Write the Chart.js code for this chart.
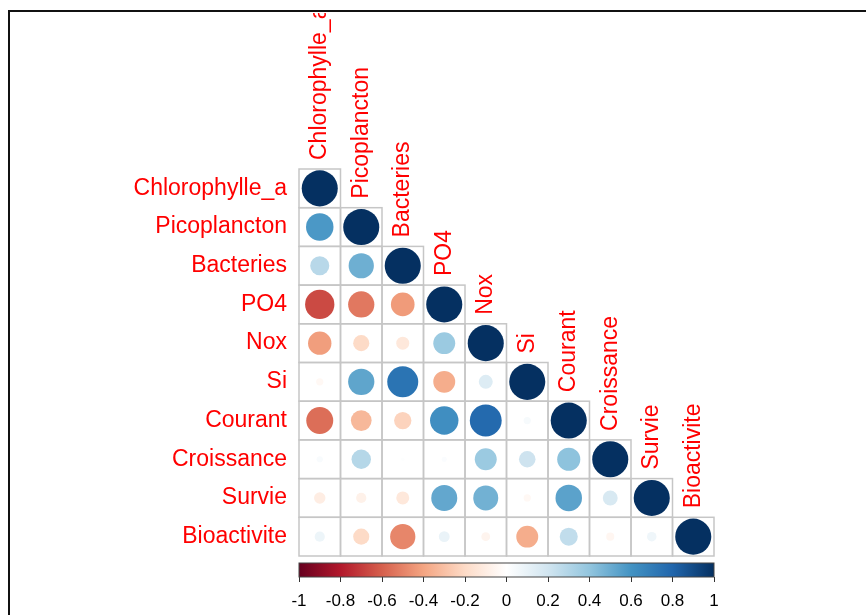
<!DOCTYPE html>
<html>
<head>
<meta charset="utf-8">
<script src="https://cdn.jsdelivr.net/npm/chart.js@4.4.1/dist/chart.umd.min.js"></script>
<style>
  html, body { margin: 0; padding: 0; background: #fff; }
  canvas { display: block; }
</style>
</head>
<body>
<canvas id="chart" width="866" height="615"></canvas>
<script>
'use strict';

const variables = ['Chlorophylle_a', 'Picoplancton', 'Bacteries', 'PO4', 'Nox', 'Si',
  'Courant', 'Croissance', 'Survie', 'Bioactivite'];

// lower triangle of the correlation matrix, one row per variable
const corChlorophylle = [1];
const corPicoplancton = [0.58, 1];
const corBacteries = [0.28, 0.49, 1];
const corPO4 = [-0.66, -0.53, -0.43, 1];
const corNox = [-0.42, -0.2, -0.13, 0.37, 1];
const corSi = [-0.04, 0.53, 0.74, -0.37, 0.15, 1];
const corCourant = [-0.56, -0.33, -0.23, 0.62, 0.78, 0.04, 1];
const corCroissance = [0.03, 0.29, 0.01, 0.02, 0.37, 0.21, 0.41, 1];
const corSurvie = [-0.1, -0.08, -0.13, 0.52, 0.48, -0.04, 0.54, 0.17, 1];
const corBioactivite = [0.08, -0.2, -0.49, 0.09, -0.06, -0.37, 0.25, -0.05, 0.07, 1];

const colorbarTicks = [-1, -0.8, -0.6, -0.4, -0.2, 0, 0.2, 0.4, 0.6, 0.8, 1];

const corrRows = [corChlorophylle, corPicoplancton, corBacteries, corPO4, corNox,
  corSi, corCourant, corCroissance, corSurvie, corBioactivite];

const FONT = '"Liberation Sans", Arial, sans-serif';
const rdbu = ['#67001F', '#B2182B', '#D6604D', '#F4A582', '#FDDBC7', '#FFFFFF',
  '#D1E5F0', '#92C5DE', '#4393C3', '#2166AC', '#053061'];

function hexToRgb(h) {
  return [1, 3, 5].map(i => parseInt(h.substr(i, 2), 16));
}

function corrColor(v) {
  const t = (v + 1) / 2 * 10;
  const i = Math.min(9, Math.floor(t));
  const f = t - i;
  const a = hexToRgb(rdbu[i]);
  const b = hexToRgb(rdbu[i + 1]);
  const c = a.map((x, k) => Math.round(x + (b[k] - x) * f));
  return 'rgb(' + c.join(',') + ')';
}

const points = [];
corrRows.forEach((row, r) => {
  row.forEach((v, c) => {
    points.push({ x: variables[c], y: variables[r], v: v });
  });
});

const corrGrid = {
  id: 'corrGrid',
  beforeDatasetsDraw(chart) {
    const ctx = chart.ctx;
    const xs = chart.scales.x;
    const ys = chart.scales.y;
    const xc = chart.scales.xc;
    const cw = (xs.right - xs.left) / variables.length;
    const ch = (ys.bottom - ys.top) / variables.length;

    // cell borders
    ctx.save();
    ctx.strokeStyle = '#c6c6c6';
    ctx.lineWidth = 1.5;
    for (let r = 0; r < variables.length; r++) {
      for (let c = 0; c <= r; c++) {
        const x0 = xs.getPixelForValue(c) - cw / 2;
        const y0 = ys.getPixelForValue(r) - ch / 2;
        ctx.strokeRect(x0, y0, cw, ch);
      }
    }
    ctx.restore();

    // column labels above the diagonal
    ctx.save();
    ctx.beginPath();
    ctx.rect(0, 13, chart.width, chart.height);
    ctx.clip();
    ctx.fillStyle = '#FF0000';
    ctx.font = '23px ' + FONT;
    ctx.textAlign = 'left';
    ctx.textBaseline = 'middle';
    variables.forEach((name, c) => {
      const x = xs.getPixelForValue(c);
      const y = ys.getPixelForValue(c) - ch / 2 - 9;
      ctx.save();
      ctx.translate(x, y);
      ctx.rotate(-Math.PI / 2);
      ctx.fillText(name, 0, 0);
      ctx.restore();
    });
    ctx.restore();

    // colour bar
    const bx0 = xc.getPixelForValue(-1);
    const bx1 = xc.getPixelForValue(1);
    const by0 = ys.bottom + 7;
    const bh = 14;
    const grad = ctx.createLinearGradient(bx0, 0, bx1, 0);
    rdbu.forEach((col, i) => grad.addColorStop(i / 10, col));
    ctx.save();
    ctx.fillStyle = grad;
    ctx.fillRect(bx0, by0, bx1 - bx0, bh);
    ctx.strokeStyle = '#444';
    ctx.lineWidth = 1;
    ctx.strokeRect(bx0, by0, bx1 - bx0, bh);
    ctx.restore();
  },
  afterDraw(chart) {
    // frame of the original screenshot
    const ctx = chart.ctx;
    ctx.save();
    ctx.strokeStyle = '#111';
    ctx.lineWidth = 2;
    ctx.beginPath();
    ctx.moveTo(chart.width, 11);
    ctx.lineTo(9, 11);
    ctx.lineTo(9, chart.height);
    ctx.stroke();
    ctx.restore();
  }
};

const chart = new Chart(document.getElementById('chart').getContext('2d'), {
  type: 'scatter',
  data: {
    datasets: [{
      data: points,
      pointRadius: ctx => {
        const s = ctx.chart.scales;
        if (!s.x || !ctx.raw) return 0;
        const cw = (s.x.right - s.x.left) / variables.length;
        const ch = (s.y.bottom - s.y.top) / variables.length;
        return 0.45 * Math.sqrt(Math.abs(ctx.raw.v)) * Math.sqrt(cw * ch);
      },
      pointBackgroundColor: ctx => ctx.raw ? corrColor(ctx.raw.v) : '#fff',
      pointBorderWidth: 0,
      pointHoverRadius: 0,
    }],
  },
  options: {
    responsive: false,
    animation: false,
    events: [],
    layout: { padding: { left: 0, top: 169, right: 152, bottom: 0 } },
    plugins: { legend: { display: false }, tooltip: { enabled: false } },
    scales: {
      x: {
        type: 'category',
        labels: variables,
        offset: true,
        display: false,
      },
      y: {
        type: 'category',
        labels: variables,
        offset: true,
        position: 'left',
        grid: { display: false, drawTicks: false },
        border: { display: false },
        ticks: { color: '#FF0000', font: { size: 23, family: FONT }, padding: 12 },
        afterFit: s => { s.width = 299; },
      },
      xc: {
        type: 'linear',
        position: 'bottom',
        min: -1,
        max: 1,
        afterBuildTicks: s => { s.ticks = colorbarTicks.map(v => ({ value: v })); },
        ticks: {
          color: '#000',
          font: { size: 17, family: FONT },
          padding: 9,
          maxRotation: 0,
          autoSkip: false,
          callback: v => String(Math.round(v * 10) / 10),
        },
        grid: {
          drawOnChartArea: false,
          tickLength: 26,
          tickBorderDash: [0, 21, 5],
          tickColor: '#333',
          tickWidth: 1,
        },
        border: { display: false },
        afterFit: s => { s.height = 59; },
      },
    },
  },
  plugins: [corrGrid],
});
</script>
</body>
</html>
